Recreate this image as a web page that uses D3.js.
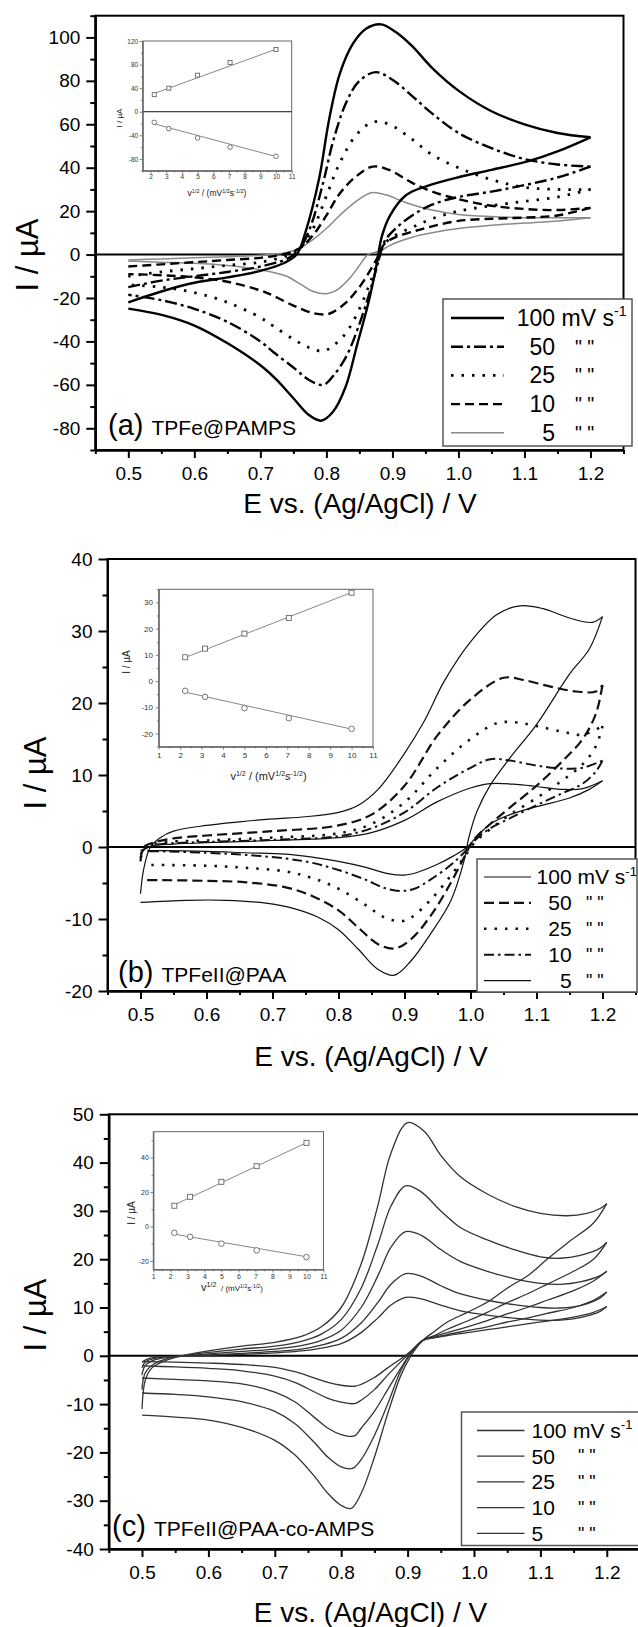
<!DOCTYPE html>
<html>
<head>
<meta charset="utf-8">
<script src="https://cdn.jsdelivr.net/npm/d3@7"></script>
<style>
  body { margin: 0; background: #fff; }
  svg { display: block; font-family: 'Liberation Sans', Arial, sans-serif; }
  text { white-space: pre; }
</style>
</head>
<body>
<script>
/* global d3 */
(function () {
  'use strict'

  // scan rates (mV/s) and their square roots for the insets
  var rates = ['100', '50', '25', '10', '5']
  var sqrtRate = [2.236, 3.162, 5, 7.071, 10]
  var fitEnds = [2.236, 10]

  // tick labels
  var eTicks = [0.5, 0.6, 0.7, 0.8, 0.9, 1.0, 1.1, 1.2]
  var aTicks = [-80, -60, -40, -20, 0, 20, 40, 60, 80, 100]
  var bTicks = [-20, -10, 0, 10, 20, 30, 40]
  var cTicks = [-40, -30, -20, -10, 0, 10, 20, 30, 40, 50]

  // (a) TPFe@PAMPS, each loop 0.5 V -> 1.2 V -> 0.5 V as [E, I]
  var a100 = [[0.5, -22], [0.55, -17], [0.6, -13], [0.65, -10.5], [0.7, -7.5], [0.735, -4], [0.755, 0], [0.768, 10],
    [0.789, 35], [0.804, 62], [0.82, 83], [0.84, 97], [0.86, 104], [0.883, 106], [0.905, 102.5], [0.93, 96],
    [0.96, 86], [1.0, 75.5], [1.05, 66], [1.1, 60], [1.15, 56], [1.2, 54],
    [1.15, 47.5], [1.106, 43], [1.05, 39], [1.0, 35.6], [0.952, 31.5], [0.921, 27.4], [0.897, 18.3], [0.884, 8.4],
    [0.875, -6.4], [0.863, -23], [0.847, -41], [0.829, -61], [0.81, -72.4], [0.792, -76.5], [0.774, -74],
    [0.749, -65.8], [0.724, -57.5], [0.7, -51], [0.651, -41], [0.601, -32.8], [0.552, -27.9], [0.5, -24.9]]
  var a50 = [[0.5, -15], [0.55, -12], [0.6, -10], [0.65, -8], [0.7, -5.5], [0.74, -2], [0.758, 2], [0.775, 12],
    [0.795, 33], [0.81, 52], [0.83, 70], [0.85, 80], [0.875, 84], [0.9, 80.5], [0.93, 73], [0.96, 65], [1.0, 56],
    [1.05, 49], [1.1, 44], [1.15, 41.5], [1.2, 40.5],
    [1.15, 35.5], [1.1, 32], [1.05, 29], [1.0, 26.5], [0.96, 23], [0.93, 18], [0.905, 12], [0.888, 6],
    [0.878, -4], [0.865, -18], [0.85, -32], [0.83, -47], [0.81, -56], [0.795, -60], [0.775, -58], [0.75, -52],
    [0.72, -45], [0.7, -40], [0.65, -31], [0.6, -25], [0.55, -21], [0.5, -18.5]]
  var a25 = [[0.5, -10], [0.55, -8], [0.6, -6.5], [0.65, -5], [0.7, -3.5], [0.74, -0.5], [0.76, 3], [0.78, 12],
    [0.8, 27], [0.82, 42], [0.845, 55], [0.87, 61], [0.895, 60], [0.93, 53], [0.96, 46], [1.0, 40], [1.05, 34.5],
    [1.1, 31], [1.15, 30], [1.2, 30],
    [1.15, 26.5], [1.1, 24.5], [1.05, 22.5], [1.0, 20], [0.96, 16.5], [0.93, 12.5], [0.905, 9], [0.888, 5],
    [0.878, -3], [0.865, -14], [0.85, -25], [0.83, -36], [0.81, -42], [0.795, -44.5], [0.775, -43], [0.75, -39],
    [0.72, -33], [0.7, -29], [0.65, -22], [0.6, -17.5], [0.55, -15], [0.5, -14]]
  var a10 = [[0.5, -5.5], [0.55, -4.5], [0.6, -3.5], [0.65, -2.5], [0.7, -1.5], [0.74, 0.5], [0.76, 3], [0.78, 9],
    [0.8, 18], [0.82, 28], [0.845, 36], [0.87, 40.5], [0.895, 39], [0.93, 33], [0.96, 29], [1.0, 25.5],
    [1.05, 22.5], [1.1, 21], [1.15, 20.5], [1.2, 21.5],
    [1.15, 18], [1.1, 17], [1.05, 16.5], [1.0, 15.5], [0.96, 13], [0.93, 10.5], [0.905, 8], [0.888, 5],
    [0.878, -1], [0.865, -8], [0.85, -15], [0.83, -22], [0.81, -26.5], [0.8, -27.5], [0.78, -27], [0.75, -23.5],
    [0.72, -19], [0.7, -16.5], [0.65, -12.5], [0.6, -10.5], [0.55, -9.5], [0.5, -9]]
  var a5 = [[0.5, -2.5], [0.55, -2], [0.6, -1.5], [0.65, -1], [0.7, -0.3], [0.74, 1], [0.76, 3], [0.78, 7],
    [0.8, 12], [0.82, 18], [0.845, 24.5], [0.868, 28.5], [0.89, 27.5], [0.92, 24], [0.96, 20.5], [1.0, 18.5],
    [1.05, 17.5], [1.1, 17], [1.15, 17], [1.2, 17],
    [1.15, 15.5], [1.1, 14.5], [1.05, 13.5], [1.0, 12], [0.96, 10], [0.93, 8], [0.91, 6], [0.895, 4],
    [0.88, 1.5], [0.863, 0], [0.85, -5], [0.835, -11], [0.815, -16.5], [0.8, -18], [0.78, -17], [0.76, -13.5],
    [0.74, -10], [0.7, -7], [0.65, -5], [0.6, -4], [0.55, -3.5], [0.5, -3]]

  // (b) TPFeII@PAA
  var b100 = [[0.5, -6.5], [0.505, -3], [0.515, 0], [0.53, 1.3], [0.55, 2.2], [0.6, 3], [0.65, 3.5], [0.7, 3.9],
    [0.75, 4.2], [0.8, 4.8], [0.83, 5.8], [0.86, 8], [0.9, 13], [0.93, 17.5], [0.96, 23], [1.0, 28.5],
    [1.04, 32.3], [1.075, 33.5], [1.11, 33.1], [1.15, 31.8], [1.185, 31.2], [1.2, 32],
    [1.18, 27.5], [1.15, 24], [1.1, 17], [1.06, 12.4], [1.03, 8.6], [1.01, 5], [0.998, 1.5], [0.99, -2],
    [0.97, -7.5], [0.94, -12], [0.91, -15.8], [0.885, -17.8], [0.86, -17], [0.83, -14.2], [0.8, -11.5],
    [0.77, -9.8], [0.73, -8.5], [0.69, -7.8], [0.63, -7.4], [0.57, -7.4], [0.5, -7.7]]
  var b50 = [[0.5, -2], [0.505, 0], [0.52, 0.6], [0.55, 1.2], [0.6, 1.6], [0.7, 2.2], [0.8, 3], [0.85, 4.5],
    [0.9, 8.5], [0.95, 15.5], [1.0, 20.5], [1.05, 23.5], [1.08, 23.2], [1.12, 22.3], [1.16, 21.6],
    [1.19, 21.6], [1.2, 22.5],
    [1.19, 18.5], [1.17, 15], [1.14, 12], [1.1, 8.5], [1.06, 5.5], [1.03, 3.2], [1.005, 1], [0.99, -1.5],
    [0.97, -5], [0.94, -9.5], [0.91, -12.8], [0.885, -14.1], [0.86, -13.5], [0.83, -11.2], [0.8, -8.8],
    [0.76, -6.8], [0.72, -5.6], [0.66, -4.9], [0.6, -4.7], [0.53, -4.6], [0.51, -4.6]]
  var b25 = [[0.5, -1.5], [0.51, 0], [0.53, 0.6], [0.6, 0.9], [0.7, 1.3], [0.8, 1.9], [0.85, 3.2], [0.9, 6.2],
    [0.95, 11], [1.0, 15], [1.04, 17.2], [1.07, 17.3], [1.1, 16.8], [1.14, 16], [1.17, 15.6], [1.2, 16.8],
    [1.19, 14], [1.17, 11.5], [1.14, 9.3], [1.1, 6.8], [1.06, 4.5], [1.03, 2.5], [1.005, 0.5], [0.99, -1.5],
    [0.97, -4], [0.94, -7.3], [0.91, -9.8], [0.895, -10.3], [0.87, -9.8], [0.84, -8], [0.8, -5.8],
    [0.76, -4.3], [0.72, -3.4], [0.66, -2.9], [0.6, -2.6], [0.53, -2.5], [0.51, -2.5]]
  var b10 = [[0.5, -1], [0.51, 0], [0.53, 0.4], [0.6, 0.7], [0.7, 1], [0.8, 1.5], [0.85, 2.6], [0.9, 4.8],
    [0.95, 8.3], [1.0, 11], [1.03, 12.2], [1.06, 12], [1.1, 11.3], [1.14, 10.9], [1.17, 11], [1.2, 12],
    [1.19, 10.5], [1.17, 8.8], [1.14, 7.5], [1.1, 5.8], [1.06, 4], [1.03, 2.6], [1.005, 0.8], [0.99, -0.8],
    [0.97, -2.5], [0.94, -4.5], [0.915, -5.8], [0.895, -6.1], [0.87, -5.7], [0.84, -4.5], [0.8, -3.2],
    [0.76, -2.2], [0.72, -1.6], [0.66, -1.1], [0.6, -0.8], [0.53, -0.6], [0.51, -0.6]]
  var b5 = [[0.5, -0.5], [0.52, 0.2], [0.55, 0.4], [0.6, 0.6], [0.7, 0.9], [0.8, 1.3], [0.85, 2], [0.9, 3.7],
    [0.95, 6.3], [1.0, 8.2], [1.03, 8.8], [1.07, 8.7], [1.1, 8.4], [1.14, 8], [1.17, 8.1], [1.2, 9.2],
    [1.18, 8], [1.15, 6.8], [1.1, 5.6], [1.06, 4.5], [1.03, 3.2], [1.01, 1.5], [0.995, 0], [0.975, -1.2],
    [0.95, -2.4], [0.92, -3.5], [0.9, -3.9], [0.875, -3.7], [0.84, -2.8], [0.8, -2], [0.76, -1.4],
    [0.72, -1], [0.66, -0.8], [0.6, -0.6], [0.53, -0.5], [0.51, -0.5]]

  // (c) TPFeII@PAA-co-AMPS
  var c100 = [[0.5, -11], [0.505, -5], [0.515, -2.5], [0.535, -1], [0.56, 0], [0.6, 1], [0.65, 2], [0.7, 2.8],
    [0.74, 4], [0.77, 6], [0.8, 10], [0.83, 19], [0.855, 31], [0.875, 42], [0.9, 48.3], [0.925, 46.5],
    [0.95, 41.5], [0.98, 37], [1.02, 33.5], [1.06, 31], [1.1, 29.5], [1.14, 29], [1.17, 29.5], [1.19, 30.5],
    [1.2, 31.5],
    [1.18, 27.5], [1.144, 23.7], [1.11, 20], [1.083, 16.8], [1.05, 14], [1.021, 11.2], [0.99, 9], [0.96, 7],
    [0.94, 5], [0.923, 3.2], [0.905, 0], [0.89, -4], [0.87, -12], [0.85, -21], [0.83, -28.5], [0.815, -31.6],
    [0.8, -31], [0.78, -28.5], [0.76, -25], [0.73, -20.5], [0.7, -17.5], [0.65, -14.8], [0.6, -13.3],
    [0.55, -12.7], [0.5, -12.3]]
  var c50 = [[0.5, -7], [0.505, -3.5], [0.52, -1.5], [0.54, -0.5], [0.56, 0], [0.6, 0.7], [0.65, 1.4], [0.7, 2],
    [0.74, 3], [0.77, 4.5], [0.8, 7.5], [0.83, 14], [0.855, 23], [0.875, 31], [0.897, 35.2], [0.92, 34],
    [0.95, 30], [0.98, 26.5], [1.02, 24], [1.06, 22], [1.1, 20.5], [1.13, 20.2], [1.16, 20.8], [1.19, 22.3],
    [1.2, 23.5],
    [1.18, 20], [1.15, 17.5], [1.11, 14.8], [1.08, 12.8], [1.05, 11], [1.02, 9], [0.99, 7.2], [0.96, 5.5],
    [0.94, 4.2], [0.923, 3.2], [0.905, 0.5], [0.89, -3], [0.87, -10], [0.85, -16.5], [0.83, -21.5],
    [0.817, -23.3], [0.8, -23], [0.78, -21], [0.76, -18], [0.73, -14], [0.7, -11.5], [0.65, -9.5],
    [0.6, -8.5], [0.55, -8], [0.5, -7.7]]
  var c25 = [[0.5, -4], [0.505, -2], [0.52, -0.8], [0.55, -0.2], [0.6, 0.4], [0.65, 0.9], [0.7, 1.4], [0.74, 2.1],
    [0.77, 3.2], [0.8, 5.3], [0.83, 10], [0.855, 16.5], [0.875, 22.5], [0.897, 25.7], [0.92, 25], [0.95, 22],
    [0.98, 19.5], [1.02, 17.5], [1.06, 16], [1.1, 15], [1.13, 14.8], [1.16, 15.3], [1.19, 16.6], [1.2, 17.5],
    [1.18, 15.5], [1.15, 13.5], [1.11, 11.5], [1.08, 10], [1.05, 8.7], [1.02, 7.3], [0.99, 6], [0.96, 4.8],
    [0.94, 4], [0.923, 3.2], [0.905, 0.6], [0.89, -2.5], [0.87, -7], [0.85, -11.5], [0.83, -15], [0.82, -16.6],
    [0.8, -16.3], [0.78, -15], [0.76, -12.8], [0.73, -9.5], [0.7, -7.5], [0.65, -5.8], [0.6, -5.2],
    [0.55, -4.9], [0.5, -4.6]]
  var c10 = [[0.5, -2.5], [0.505, -1.3], [0.52, -0.5], [0.55, -0.1], [0.6, 0.2], [0.65, 0.5], [0.7, 0.9],
    [0.74, 1.4], [0.77, 2.2], [0.8, 3.6], [0.83, 6.8], [0.855, 11], [0.875, 14.8], [0.897, 17], [0.92, 16.5],
    [0.95, 14.5], [0.98, 12.8], [1.02, 11.5], [1.06, 10.6], [1.1, 10], [1.13, 9.9], [1.16, 10.4], [1.19, 12],
    [1.2, 13.2],
    [1.18, 11.5], [1.15, 10], [1.11, 8.8], [1.08, 7.8], [1.05, 7], [1.02, 6], [0.99, 5.2], [0.96, 4.4],
    [0.94, 3.8], [0.923, 3.2], [0.905, 0.8], [0.89, -1.2], [0.87, -4], [0.85, -7], [0.83, -9.2], [0.82, -9.9],
    [0.8, -9.6], [0.78, -8.8], [0.76, -7.5], [0.73, -5.5], [0.7, -4.2], [0.65, -3.1], [0.6, -2.6],
    [0.55, -2.3], [0.5, -2.1]]
  var c5 = [[0.5, -1.3], [0.51, -0.6], [0.53, -0.2], [0.6, 0.1], [0.65, 0.3], [0.7, 0.6], [0.74, 1], [0.77, 1.6],
    [0.8, 2.5], [0.83, 4.8], [0.855, 7.8], [0.875, 10.5], [0.897, 12.1], [0.92, 11.8], [0.95, 10.5],
    [0.98, 9.3], [1.02, 8.4], [1.06, 7.8], [1.1, 7.4], [1.13, 7.4], [1.16, 7.9], [1.19, 9.2], [1.2, 10.2],
    [1.18, 9], [1.15, 8], [1.11, 7.2], [1.08, 6.6], [1.05, 6], [1.02, 5.4], [0.99, 4.8], [0.96, 4.2],
    [0.94, 3.7], [0.923, 3.2], [0.905, 1], [0.89, -0.6], [0.87, -2.5], [0.85, -4.5], [0.83, -5.9],
    [0.82, -6.3], [0.8, -6.1], [0.78, -5.5], [0.76, -4.6], [0.73, -3.3], [0.7, -2.4], [0.65, -1.8],
    [0.6, -1.5], [0.55, -1.3], [0.5, -1.2]]

  // inset peak currents vs sqrt(rate): anodic (squares), cathodic (circles), fit line ends
  var insAan = [29, 40, 62, 83.5, 105.5]
  var insAca = [-18, -28.5, -44.5, -60, -75.5]
  var fitAan = [31, 106]
  var fitAca = [-20.5, -76]
  var insBan = [9.1, 12.4, 18.1, 24.1, 33.7]
  var insBca = [-3.7, -6.0, -10.3, -14.1, -18.2]
  var fitBan = [9.0, 33.8]
  var fitBca = [-4.2, -18.3]
  var insCan = [12.0, 17.2, 25.9, 35.0, 48.5]
  var insCca = [-3.7, -6.0, -10.0, -13.9, -17.8]
  var fitCan = [12.5, 48.6]
  var fitCca = [-4.5, -17.6]

  var stylesA = [
    { w: 2.4, c: '#000', d: null },
    { w: 2.4, c: '#000', d: '12,4,3,4' },
    { w: 2.8, c: '#000', d: '2.5,8' },
    { w: 2.4, c: '#000', d: '9,5' },
    { w: 1.5, c: '#8a8a8a', d: null }
  ]
  var stylesB = [
    { w: 1.2, c: '#111', d: null },
    { w: 2.2, c: '#111', d: '10,5' },
    { w: 2.6, c: '#111', d: '2.5,8' },
    { w: 2.0, c: '#111', d: '10,4,2.5,4' },
    { w: 1.2, c: '#111', d: null }
  ]
  var stylesC = rates.map(function () { return { w: 1.3, c: '#333', d: null } })

  // plain hyphen minus, as in the original figure
  var plain = function (d) { return String(d) }

  var svg = d3.select('body').append('svg')
    .attr('width', 638)
    .attr('height', 1627)

  var panels = [
    {
      l: 95.3, r: 623.5, t: 15.7, b: 450, yDom: [-90, 110], yTicks: aTicks, yMinor: d3.range(-90, 111, 20),
      loops: [a5, a10, a25, a50, a100], styles: stylesA.slice().reverse(),
      yTitle: [27, 255], xTitle: [360, 503], tag: ['(a)', 'TPFe@PAMPS', 108, 435],
      inset: {
        l: 142.7, r: 291.7, t: 41, b: 170.7, xDom: [1.5, 11], yDom: [-100, 120],
        xTicks: d3.range(2, 12), xMinor: d3.range(1.5, 11.1, 1), yTicks: [-80, -40, 0, 40, 80, 120],
        yMinor: [-100, -60, -20, 20, 60, 100], fs: 6.5, xPad: 1, yPad: 1.5, zero: true, mark: 4,
        an: insAan, ca: insAca, fan: fitAan, fca: fitAca,
        yTitle: [119, 118, 8], xTitle: [217, 196, 8.5, 8.5]
      },
      legend: {
        x0: 443, y0: 299, x1: 632, y1: 446, row0: 318, rowH: 28.7, lx0: 451, lx1: 504,
        numX: 555, anchor: 'end', fs: 23, unitX: 561.5, qX: 575
      },
      legendStyles: stylesA
    },
    {
      l: 107.5, r: 635.5, t: 559, b: 991, yDom: [-20, 40], yTicks: bTicks, yMinor: d3.range(-15, 40, 10),
      loops: [b5, b10, b25, b50, b100], styles: stylesB.slice().reverse(),
      yTitle: [35, 773], xTitle: [371, 1056], tag: ['(b)', 'TPFeII@PAA', 118, 982],
      inset: {
        l: 158.7, r: 373, t: 589.3, b: 746.7, xDom: [1, 11], yDom: [-25, 35],
        xTicks: d3.range(1, 12), xMinor: d3.range(1.5, 11, 1), yTicks: [-20, -10, 0, 10, 20, 30],
        yMinor: [-25, -15, -5, 5, 15, 25, 35], fs: 8, xPad: 2.5, yPad: 2.7, zero: false, mark: 5,
        an: insBan, ca: insBca, fan: fitBan, fca: fitBca,
        yTitle: [126, 662, 10], xTitle: [268.5, 780, 11, 11]
      },
      legend: {
        x0: 477, y0: 859, x1: 637, y1: 992, row0: 877, rowH: 25.9, lx0: 484, lx1: 531,
        numX: 571.6, anchor: 'end', fs: 21, unitX: 577.5, qX: 586
      },
      legendStyles: stylesB
    },
    {
      l: 108.8, r: 640, t: 1114.3, b: 1549, yDom: [-40, 50], yTicks: cTicks, yMinor: d3.range(-35, 50, 10),
      loops: [c5, c10, c25, c50, c100], styles: stylesC,
      yTitle: [35, 1315], xTitle: [370.5, 1612], tag: ['(c)', 'TPFeII@PAA-co-AMPS', 112, 1536],
      inset: {
        l: 153.3, r: 323.5, t: 1131.7, b: 1269.5, xDom: [1, 11], yDom: [-25, 55],
        xTicks: d3.range(1, 12), xMinor: d3.range(1.5, 11, 1), yTicks: [-20, 0, 20, 40],
        yMinor: [-10, 10, 30, 50], fs: 7, xPad: 1.2, yPad: 1.5, zero: false, mark: 5,
        an: insCan, ca: insCca, fan: fitCan, fca: fitCca,
        yTitle: [131.5, 1213, 10], xTitle: [232, 1291, 11, 8]
      },
      legend: {
        x0: 461.5, y0: 1412, x1: 645, y1: 1545.5, row0: 1430.5, rowH: 25.7, lx0: 477, lx1: 524.5,
        numX: 531.5, anchor: 'start', fs: 21, unitX: 573, qX: 578
      },
      legendStyles: stylesC
    }
  ]

  panels.forEach(drawPanel)

  function styleLine (sel, st) {
    return sel.attr('fill', 'none')
      .attr('stroke', st.c)
      .attr('stroke-width', st.w)
      .attr('stroke-dasharray', st.d)
  }

  function styleAxis (g, fs, color, sw) {
    g.attr('font-family', null).attr('font-size', fs)
    g.selectAll('path').attr('stroke', color).attr('stroke-width', sw)
    g.selectAll('line').attr('stroke', color).attr('stroke-width', sw)
    g.selectAll('text').attr('fill', color === '#000' ? '#000' : '#333')
  }

  function drawPanel (p) {
    var x = d3.scaleLinear().domain([0.45, 1.25]).range([p.l, p.r])
    var y = d3.scaleLinear().domain(p.yDom).range([p.b, p.t])
    var g = svg.append('g')

    var line = d3.line()
      .x(function (d) { return x(d[0]) })
      .y(function (d) { return y(d[1]) })
      .curve(d3.curveCatmullRom.alpha(0.5))

    // zero line
    g.append('line')
      .attr('x1', p.l).attr('x2', p.r)
      .attr('y1', y(0)).attr('y2', y(0))
      .attr('stroke', '#000').attr('stroke-width', 2)

    // CV loops: split at the turning potential
    p.loops.forEach(function (loop, i) {
      var k = d3.maxIndex(loop, function (d) { return d[0] })
      ;[loop.slice(0, k + 1), loop.slice(k)].forEach(function (part) {
        styleLine(g.append('path').attr('d', line(part)), p.styles[i])
      })
    })

    // frame
    g.append('rect')
      .attr('x', p.l).attr('y', p.t)
      .attr('width', p.r - p.l).attr('height', p.b - p.t)
      .attr('fill', 'none').attr('stroke', '#000').attr('stroke-width', 2)

    // axes
    var xMinor = d3.range(0.45, 1.26, 0.1)
    g.append('g').attr('transform', 'translate(0,' + p.b + ')')
      .call(d3.axisBottom(x).tickValues(xMinor).tickSize(4).tickSizeOuter(0).tickFormat(''))
      .call(styleAxis, 19, '#000', 2)
    g.append('g').attr('transform', 'translate(0,' + p.b + ')')
      .call(d3.axisBottom(x).tickValues(eTicks).tickSize(8).tickPadding(9).tickSizeOuter(0)
        .tickFormat(d3.format('.1f')))
      .call(styleAxis, 19, '#000', 2)
    g.append('g').attr('transform', 'translate(' + p.l + ',0)')
      .call(d3.axisLeft(y).tickValues(p.yMinor).tickSize(5).tickSizeOuter(0).tickFormat(''))
      .call(styleAxis, 19, '#000', 2)
    g.append('g').attr('transform', 'translate(' + p.l + ',0)')
      .call(d3.axisLeft(y).tickValues(p.yTicks).tickSize(9).tickPadding(6).tickSizeOuter(0)
        .tickFormat(plain))
      .call(styleAxis, 19, '#000', 2)

    // axis titles
    g.append('text')
      .attr('transform', 'translate(' + p.yTitle[0] + ',' + p.yTitle[1] + ') rotate(-90)')
      .attr('text-anchor', 'middle').attr('dy', '0.35em')
      .attr('font-size', 31).text('I / \u00b5A')
    g.append('text')
      .attr('x', p.xTitle[0]).attr('y', p.xTitle[1])
      .attr('text-anchor', 'middle').attr('dy', '0.35em')
      .attr('font-size', 28).text('E vs. (Ag/AgCl) / V')

    // panel tag
    var tag = g.append('text').attr('x', p.tag[2]).attr('y', p.tag[3])
    tag.append('tspan').attr('font-size', 29).text(p.tag[0] + ' ')
    tag.append('tspan').attr('font-size', 21).text(p.tag[1])

    drawInset(p.inset)
    drawLegend(p.legend, p.legendStyles)
  }

  function richText (g, cx, cy, parts) {
    var t = g.append('text').attr('x', cx).attr('y', cy).attr('text-anchor', 'middle')
    var shift = 0
    parts.forEach(function (pt) {
      t.append('tspan')
        .attr('font-size', pt.fs)
        .attr('dy', -(pt.up - shift))
        .text(pt.t)
      shift = pt.up
    })
    return t
  }

  function drawInset (q) {
    var x = d3.scaleLinear().domain(q.xDom).range([q.l, q.r])
    var y = d3.scaleLinear().domain(q.yDom).range([q.b, q.t])
    var g = svg.append('g')
    var grey = '#666'

    g.append('rect')
      .attr('x', q.l).attr('y', q.t)
      .attr('width', q.r - q.l).attr('height', q.b - q.t)
      .attr('fill', '#fff').attr('stroke', grey).attr('stroke-width', 1)

    if (q.zero) {
      g.append('line').attr('x1', q.l).attr('x2', q.r)
        .attr('y1', y(0)).attr('y2', y(0))
        .attr('stroke', '#111').attr('stroke-width', 1)
    }

    g.append('g').attr('transform', 'translate(0,' + q.b + ')')
      .call(d3.axisBottom(x).tickValues(q.xMinor).tickSize(1.8).tickSizeOuter(0).tickFormat(''))
      .call(styleAxis, q.fs, grey, 0.8)
    g.append('g').attr('transform', 'translate(0,' + q.b + ')')
      .call(d3.axisBottom(x).tickValues(q.xTicks).tickSize(3).tickPadding(q.xPad).tickSizeOuter(0)
        .tickFormat(plain))
      .call(styleAxis, q.fs, grey, 0.8)
    g.append('g').attr('transform', 'translate(' + q.l + ',0)')
      .call(d3.axisLeft(y).tickValues(q.yMinor).tickSize(1.8).tickSizeOuter(0).tickFormat(''))
      .call(styleAxis, q.fs, grey, 0.8)
    g.append('g').attr('transform', 'translate(' + q.l + ',0)')
      .call(d3.axisLeft(y).tickValues(q.yTicks).tickSize(3).tickPadding(q.yPad).tickSizeOuter(0)
        .tickFormat(plain))
      .call(styleAxis, q.fs, grey, 0.8)

    // fit lines
    ;[q.fan, q.fca].forEach(function (f) {
      g.append('line')
        .attr('x1', x(fitEnds[0])).attr('y1', y(f[0]))
        .attr('x2', x(fitEnds[1])).attr('y2', y(f[1]))
        .attr('stroke', '#888').attr('stroke-width', 1)
    })

    // points
    var m = q.mark
    g.selectAll('.sq').data(q.an).enter().append('rect')
      .attr('x', function (d, i) { return x(sqrtRate[i]) - m / 2 })
      .attr('y', function (d) { return y(d) - m / 2 })
      .attr('width', m).attr('height', m)
      .attr('fill', '#fff').attr('stroke', grey).attr('stroke-width', 0.9)
    g.selectAll('.ci').data(q.ca).enter().append('circle')
      .attr('cx', function (d, i) { return x(sqrtRate[i]) })
      .attr('cy', function (d) { return y(d) })
      .attr('r', m / 2 + 0.3)
      .attr('fill', '#fff').attr('stroke', grey).attr('stroke-width', 0.9)

    // titles
    g.append('text')
      .attr('transform', 'translate(' + q.yTitle[0] + ',' + q.yTitle[1] + ') rotate(-90)')
      .attr('text-anchor', 'middle').attr('dy', '0.35em')
      .attr('font-size', q.yTitle[2]).attr('fill', '#222').text('I / \u00b5A')
    var big = q.xTitle[2]
    var fs = q.xTitle[3]
    richText(g, q.xTitle[0], q.xTitle[1], [
      { t: 'v', fs: big, up: 0 },
      { t: '1/2', fs: big * 0.65, up: big * 0.4 },
      { t: big > fs ? '  / (mV' : ' / (mV', fs: fs, up: 0 },
      { t: '1/2', fs: fs * 0.65, up: fs * 0.4 },
      { t: 's', fs: fs, up: 0 },
      { t: '-1/2', fs: fs * 0.65, up: fs * 0.4 },
      { t: ')', fs: fs, up: 0 }
    ]).attr('fill', '#222')
  }

  function drawLegend (L, styles) {
    var g = svg.append('g')
    g.append('rect')
      .attr('x', L.x0).attr('y', L.y0)
      .attr('width', L.x1 - L.x0).attr('height', L.y1 - L.y0)
      .attr('fill', '#fff').attr('stroke', '#555').attr('stroke-width', 1.5)

    rates.forEach(function (r, i) {
      var yy = L.row0 + i * L.rowH
      styleLine(g.append('line')
        .attr('x1', L.lx0).attr('x2', L.lx1)
        .attr('y1', yy).attr('y2', yy), styles[i])
      g.append('text')
        .attr('x', L.numX).attr('y', yy).attr('dy', '0.35em')
        .attr('text-anchor', L.anchor).attr('font-size', L.fs)
        .text(r)
      if (i === 0) {
        var u = g.append('text')
          .attr('x', L.unitX).attr('y', yy).attr('dy', '0.35em')
          .attr('font-size', L.fs)
        u.append('tspan').text('mV s')
        u.append('tspan').attr('dy', -L.fs * 0.42).attr('font-size', L.fs * 0.62).text('-1')
      } else {
        g.append('text')
          .attr('x', L.qX).attr('y', yy).attr('dy', '0.35em')
          .attr('font-size', L.fs * 0.85)
          .text('" "')
      }
    })
  }
}())
</script>
</body>
</html>
